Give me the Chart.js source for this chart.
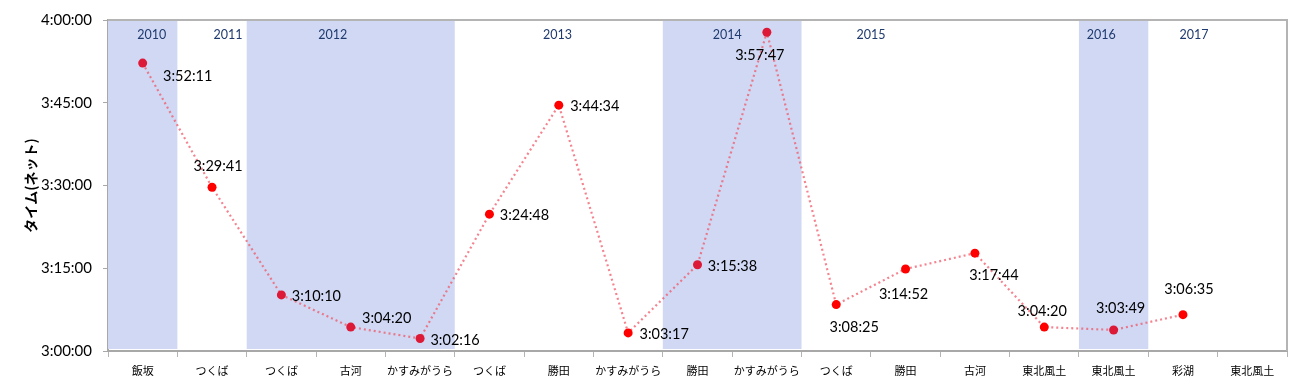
<!DOCTYPE html>
<html>
<head>
<meta charset="utf-8">
<script src="https://cdn.jsdelivr.net/npm/chart.js@4/dist/chart.umd.min.js"></script>
<style>
  html, body { margin: 0; padding: 0; background: #fff; }
  #wrap { width: 1299px; height: 388px; }
</style>
</head>
<body>
<div id="wrap"><canvas id="timeChart"></canvas></div>
<script>
// ---------------------------------------------------------------------------
// データ
// ---------------------------------------------------------------------------
const courses = ['飯坂', 'つくば', 'つくば', '古河', 'かすみがうら', 'つくば', '勝田', 'かすみがうら',
  '勝田', 'かすみがうら', 'つくば', '勝田', '古河', '東北風土', '東北風土', '彩湖', '東北風土'];
const netTimes = ['3:52:11', '3:29:41', '3:10:10', '3:04:20', '3:02:16', '3:24:48', '3:44:34', '3:03:17',
  '3:15:38', '3:57:47', '3:08:25', '3:14:52', '3:17:44', '3:04:20', '3:03:49', '3:06:35', null];
const years = ['2010', '2011', '2012', '2013', '2014', '2015', '2016', '2017'];
const yearFirst = [0, 1, 2, 5, 8, 10, 14, 15];   // 各年の最初のレース
const yearLast = [0, 1, 4, 7, 9, 13, 14, 16];    // 各年の最後のレース
const yearShaded = [true, false, true, false, true, false, true, false];
const yTicks = ['3:00:00', '3:15:00', '3:30:00', '3:45:00', '4:00:00'];

// "h:mm:ss" -> 秒
function toSec(s) {
  if (s == null) return null;
  const p = s.split(':').map(Number);
  return p[0] * 3600 + p[1] * 60 + p[2];
}
function toHms(v) {
  const h = Math.floor(v / 3600), m = Math.floor((v % 3600) / 60), s = Math.round(v % 60);
  return h + ':' + String(m).padStart(2, '0') + ':' + String(s).padStart(2, '0');
}

// レースがどの年か -> 背景の色でマーカー色を変える
function shadedAt(i) {
  for (let k = 0; k < years.length; k++) {
    if (i >= yearFirst[k] && i <= yearLast[k]) return yearShaded[k];
  }
  return false;
}
const pointColors = courses.map((c, i) => shadedAt(i) ? '#dc1a38' : '#ff0000');

// 表示位置（レイアウト用）
const yearLabelAt = [0.13, 1.23, 2.74, 5.98, 8.43, 10.5, 13.82, 15.16];
const labelOffset = [[45, 13], [6, -21], [35, 1], [36, -9], [35, 2], [35, 1], [36, 1], [36, 1],
  [35, 2], [-7, 23], [18, 23], [-2, 25], [19, 22], [-2, -16], [7, -22], [6, -25]];

const FONT_NUM = 'Lato, "Noto Sans CJK JP", sans-serif';
const FONT_JP = '"Noto Sans CJK JP", sans-serif';

// ---------------------------------------------------------------------------
// プラグイン: 年ごとの背景帯 / 枠 / 値ラベル
// ---------------------------------------------------------------------------
const yearBands = {
  id: 'yearBands',
  beforeDatasetsDraw(chart) {
    const { ctx, chartArea: a, scales: { x } } = chart;
    const half = (x.getPixelForValue(1) - x.getPixelForValue(0)) / 2;
    ctx.save();
    years.forEach((y, k) => {
      if (!yearShaded[k]) return;
      const l = x.getPixelForValue(yearFirst[k]) - half;
      const r = x.getPixelForValue(yearLast[k]) + half;
      ctx.fillStyle = '#d0d8f4';
      ctx.fillRect(l, a.top + 1, r - l, a.bottom - a.top - 3);
    });
    ctx.fillStyle = '#1f3a6e';
    ctx.font = '12.5px ' + FONT_NUM;
    ctx.textAlign = 'center';
    ctx.textBaseline = 'middle';
    years.forEach((y, k) => {
      ctx.fillText(y, x.getPixelForValue(yearLabelAt[k]), a.top + 15);
    });
    // 枠（上・右）
    ctx.strokeStyle = '#b4b4b4';
    ctx.lineWidth = 2;
    ctx.beginPath();
    ctx.moveTo(a.left, a.top);
    ctx.lineTo(a.right, a.top);
    ctx.lineTo(a.right, a.bottom);
    ctx.stroke();
    ctx.restore();
  },
  afterDatasetsDraw(chart) {
    const { ctx } = chart;
    const meta = chart.getDatasetMeta(0);
    ctx.save();
    ctx.fillStyle = '#000';
    ctx.font = '14.5px ' + FONT_NUM;
    ctx.textAlign = 'center';
    ctx.textBaseline = 'middle';
    meta.data.forEach((pt, i) => {
      if (netTimes[i] == null) return;
      const off = labelOffset[i];
      ctx.fillText(netTimes[i], pt.x + off[0], pt.y + off[1]);
    });
    ctx.restore();
  }
};

// ---------------------------------------------------------------------------
// グラフ
// ---------------------------------------------------------------------------
new Chart(document.getElementById('timeChart').getContext('2d'), {
  type: 'line',
  data: {
    labels: courses,
    datasets: [{
      label: 'タイム(ネット)',
      data: netTimes.map(toSec),
      borderColor: 'rgba(240, 90, 105, 0.75)',
      borderWidth: 2.2,
      borderDash: [2, 3],
      pointRadius: 4.5,
      pointHoverRadius: 4.5,
      pointBorderWidth: 0,
      pointBackgroundColor: pointColors,
      pointBorderColor: pointColors,
      tension: 0,
      spanGaps: false
    }]
  },
  options: {
    responsive: true,
    maintainAspectRatio: false,
    animation: false,
    events: [],
    layout: { padding: { top: 13, right: 12, left: 0, bottom: 0 } },
    plugins: { legend: { display: false }, tooltip: { enabled: false } },
    scales: {
      x: {
        type: 'category',
        offset: true,
        afterFit(s) { s.height = 37; },
        grid: { offset: true, drawOnChartArea: false, drawTicks: true, tickLength: 6, color: '#b4b4b4', lineWidth: 1 },
        border: { color: '#a8a8a8', width: 2 },
        ticks: { color: '#000', font: { family: FONT_JP, size: 11 }, padding: 7, maxRotation: 0, autoSkip: false }
      },
      y: {
        min: toSec(yTicks[0]),
        max: toSec(yTicks[yTicks.length - 1]),
        afterFit(s) { s.width = 108; },
        afterBuildTicks(s) { s.ticks = yTicks.map(t => ({ value: toSec(t) })); },
        grid: { drawOnChartArea: false, drawTicks: true, tickLength: 5, color: '#a8a8a8' },
        border: { color: '#a8a8a8', width: 2 },
        ticks: { color: '#000', font: { family: FONT_NUM, size: 15 }, padding: 11, callback: v => toHms(v) },
        title: {
          display: true,
          text: 'タイム(ネット)',
          color: '#000',
          font: { family: FONT_JP, size: 14, weight: 'bold' },
          padding: { top: 22, bottom: 0 }
        }
      }
    }
  },
  plugins: [yearBands]
});
</script>
</body>
</html>
